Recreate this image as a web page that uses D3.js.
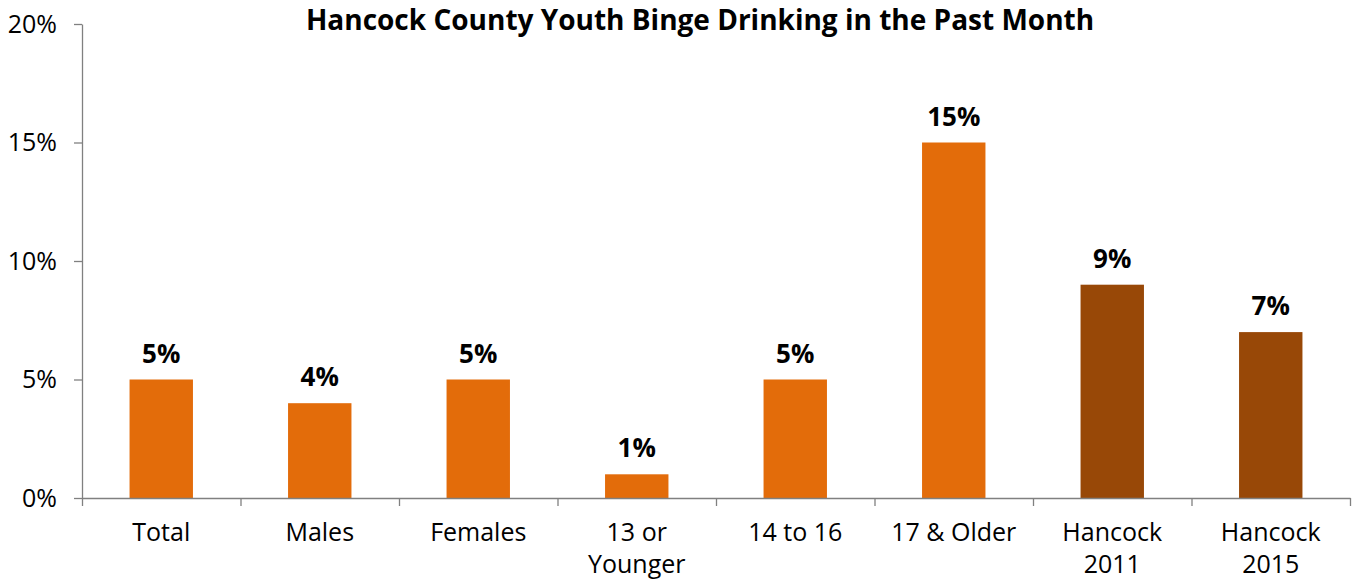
<!DOCTYPE html>
<html><head><meta charset="utf-8">
<script src="https://cdn.jsdelivr.net/npm/d3@7"></script>
<style>body{margin:0;background:#fff;} svg{display:block;font-family:"Open Sans",sans-serif;}</style>
</head><body><svg id="c" width="1354" height="579"></svg>
<script>
(function(){
const categories = [["Total"],["Males"],["Females"],["13 or","Younger"],["14 to 16"],["17 & Older"],["Hancock","2011"],["Hancock","2015"]];
const values = [5, 4, 5, 1, 5, 15, 9, 7];
const barColors = ["#E36C0A","#E36C0A","#E36C0A","#E36C0A","#E36C0A","#E36C0A","#984807","#984807"];
const yTicks = [0, 5, 10, 15, 20];
const title = "Hancock County Youth Binge Drinking in the Past Month";

const svg = d3.select("#c");
const mLeft = 82, mRight = 1350, mTop = 24, mBottom = 498;
const keys = categories.map((c,i)=>i);
const x = d3.scaleBand().domain(keys).range([mLeft,mRight]).paddingInner(0.6).paddingOuter(0.3);
const y = d3.scaleLinear().domain([0,20]).range([mBottom,mTop]);

svg.append("text").attr("x",700).attr("y",30).attr("text-anchor","middle")
  .attr("font-weight","bold").attr("font-size",28).text(title);

svg.selectAll("rect.bar").data(values).join("rect").attr("class","bar")
  .attr("x",(d,i)=>x(i)).attr("width",x.bandwidth())
  .attr("y",d=>y(d)).attr("height",d=>y(0)-y(d)).attr("fill",(d,i)=>barColors[i]);

svg.selectAll("text.lbl").data(values).join("text").attr("class","lbl")
  .attr("x",(d,i)=>x(i)+x.bandwidth()/2).attr("y",d=>y(d)-17)
  .attr("text-anchor","middle").attr("font-weight","bold").attr("font-size",26)
  .text(d=>d+"%");

const ya = svg.append("g").attr("transform",`translate(${mLeft},0)`)
  .call(d3.axisLeft(y).tickValues(yTicks).tickFormat(d=>d+"%").tickSize(8).tickSizeOuter(0));
ya.select(".domain").attr("stroke","#808080").attr("stroke-width",1.3);
ya.selectAll(".tick line").attr("stroke","#808080").attr("stroke-width",1.3);
ya.selectAll(".tick text").attr("font-size",25).attr("fill","#000").attr("x",-25).attr("font-family","Open Sans, sans-serif");

const bx = d3.scaleLinear().domain([0,categories.length]).range([mLeft,mRight]);
const xa = svg.append("g").attr("transform",`translate(0,${mBottom})`)
  .call(d3.axisBottom(bx).tickValues(d3.range(categories.length+1)).tickSize(8).tickSizeOuter(0).tickFormat(""));
xa.select(".domain").attr("stroke","#808080").attr("stroke-width",1.3);
xa.selectAll(".tick line").attr("stroke","#808080").attr("stroke-width",1.3);

svg.selectAll("text.cat").data(categories).join("text").attr("class","cat")
  .attr("x",(d,i)=>x(i)+x.bandwidth()/2).attr("y",541)
  .attr("text-anchor","middle").attr("font-size",25)
  .selectAll("tspan").data(d=>d).join("tspan")
  .attr("x",function(){return this.parentNode.getAttribute("x");})
  .attr("dy",(d,j)=>j===0?0:32).text(d=>d);
})();
</script></body></html>
